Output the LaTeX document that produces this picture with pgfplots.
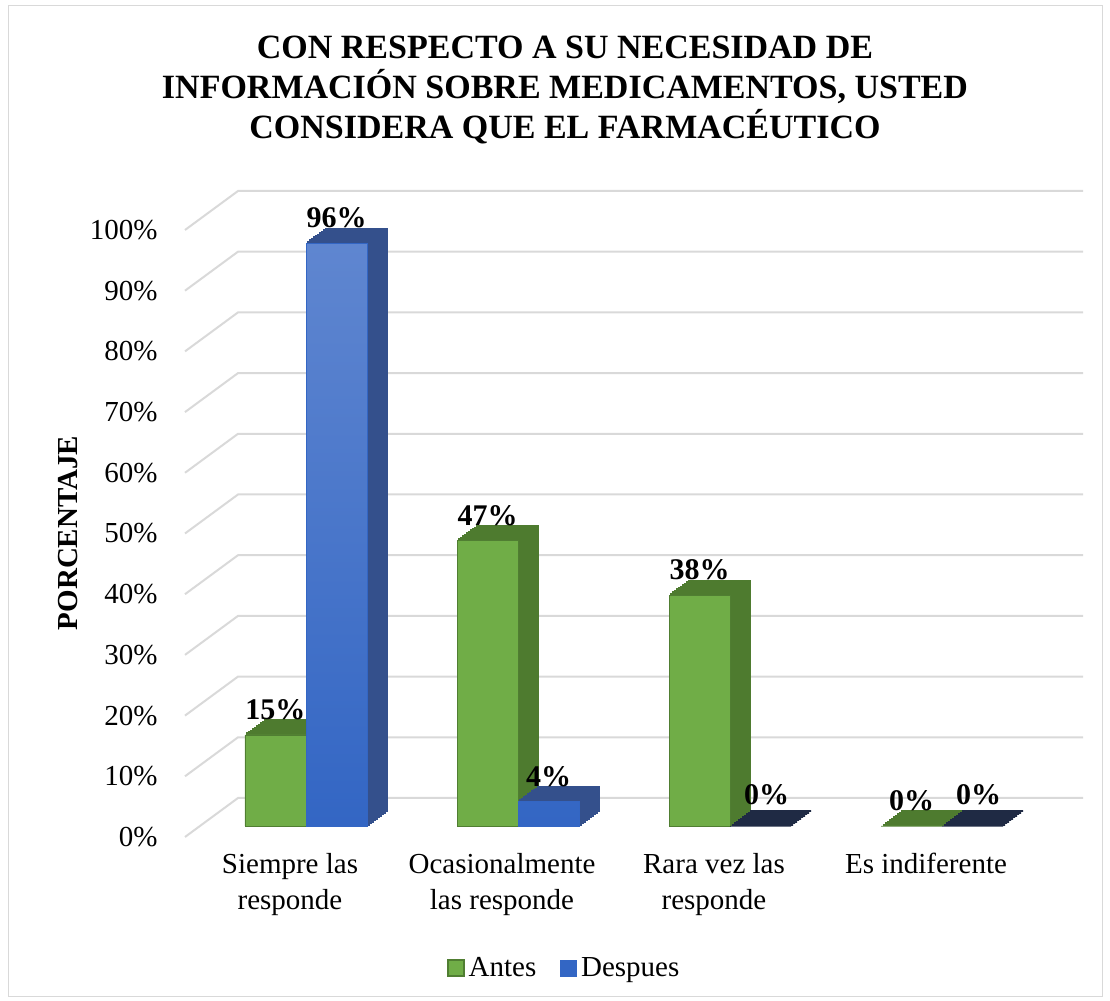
\documentclass[border=0pt]{standalone}
\usepackage{pgfplots}
\pgfplotsset{compat=1.18}
\usepackage{fontspec}
\setmainfont{Liberation Serif}
\definecolor{gfront}{HTML}{70AD47}
\definecolor{gedge}{HTML}{507E32}
\definecolor{gside}{HTML}{4E7B2F}
\definecolor{btop}{HTML}{5F86D0}
\definecolor{bbot}{HTML}{3366C4}
\definecolor{bside}{HTML}{34508C}
\definecolor{navy}{HTML}{1F2A44}
\definecolor{gridc}{HTML}{D9D9D9}
\tikzset{
  dstep/.style 2 args={preaction={fill=#1,draw=#1,line width=1pt,transform canvas={shift={(#2*1pt,#2*0.73pt)}}}},
  depth/.style={dstep={#1}{10},dstep={#1}{9},dstep={#1}{8},dstep={#1}{7},dstep={#1}{6},dstep={#1}{5},dstep={#1}{4},dstep={#1}{3},dstep={#1}{2},dstep={#1}{1}}
}
\begin{document}
\begin{tikzpicture}
\useasboundingbox (0,0) rectangle (555pt,500.5pt);
\draw[gray!30] (4pt,2.5pt) rectangle (551pt,498pt);
\node[font=\fontsize{17}{20}\selectfont\bfseries, align=center] at (282.5pt,455.5pt) {CON RESPECTO A SU NECESIDAD DE\\INFORMACIÓN SOBRE MEDICAMENTOS, USTED\\CONSIDERA QUE EL FARMACÉUTICO};
\node[font=\fontsize{14.5}{17}\selectfont\bfseries, rotate=90] at (34pt,234pt) {PORCENTAJE};
\begin{axis}[
  at={(100pt,87.5pt)}, anchor=south west,
  scale only axis, width=424pt, height=303.5pt,
  xmin=-0.5, xmax=3.5, ymin=0, ymax=100,
  clip=false,
  axis line style={draw=none},
  major tick length=0pt,
  ytick={0,10,...,100},
  yticklabel={\pgfmathprintnumber{\tick}\%},
  tick label style={font=\fontsize{14.5}{17}\selectfont},
  yticklabel style={anchor=east, inner sep=0pt, xshift=-21pt, yshift=-5.5pt},
  xtick={0,1,2,3},
  xticklabels={{Siempre las\\responde},{Ocasionalmente\\las responde},{Rara vez las\\responde},{Es indiferente}},
  xticklabel style={align=center, xshift=-8pt, yshift=-10pt, font=\fontsize{14.5}{18}\selectfont},
  /pgf/number format/assume math mode=true,
  ybar, bar width=30.5pt,
  nodes near coords={\pgfmathprintnumber{\pgfplotspointmeta}\%},
  every node near coord/.append style={font=\fontsize{15}{17}\selectfont\bfseries, yshift=4pt},
  legend style={at={(0.4304,-0.234)}, anchor=center, draw=none, legend columns=2, font=\fontsize{14.5}{17}\selectfont, /tikz/every even column/.append style={column sep=10pt}},
  legend image code/.code={\draw[#1] (0pt,-4pt) rectangle (8pt,4pt);},
]
\pgfplotsinvokeforeach{0,10,...,100}{
  \draw[gridc, line width=1pt] ([shift={(-7.5pt,-5.5pt)}]axis cs:-0.5,#1) -- ([shift={(19pt,14pt)}]axis cs:-0.5,#1) -- ([shift={(17.5pt,14pt)}]axis cs:3.5,#1);
}
\addplot[forget plot, bar shift=-15.25pt, fill=gfront, draw=gedge, depth=gside] coordinates {(0,15)(1,47)(2,38)(3,0)};
\addplot[forget plot, bar shift=15.25pt, top color=btop, bottom color=bbot, draw=bbot, depth=bside] coordinates {(0,96)(1,4)};
\addplot[forget plot, bar shift=15.25pt, fill=navy, draw=navy, depth=navy,
  every node near coord/.append style={yshift=3pt, xshift=3pt}] coordinates {(2,0)(3,0)};
\addlegendimage{fill=gfront, draw=gedge, line width=1pt}
\addlegendentry{Antes}
\addlegendimage{fill=bbot, draw=bbot}
\addlegendentry{Despues}
\end{axis}
\end{tikzpicture}
\end{document}
